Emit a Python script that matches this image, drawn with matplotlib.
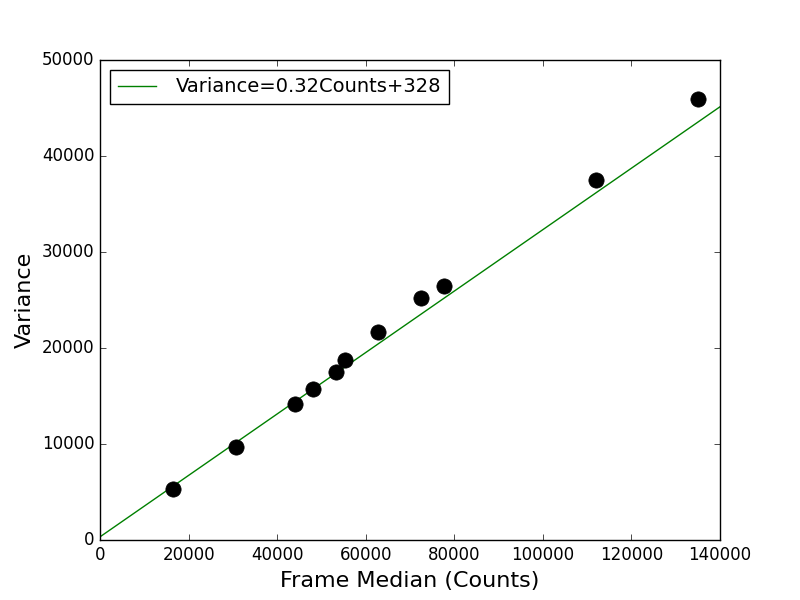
import numpy as np
import matplotlib
matplotlib.use('Agg')
import matplotlib.pyplot as plt

plt.style.use('classic')

# data
median_counts = [16500, 30700, 44000, 48100, 53300, 55300, 62800, 72500, 77700, 112000, 135000]
variance = [5300, 9700, 14200, 15700, 17500, 18800, 21700, 25200, 26500, 37500, 45900]
slope, intercept = 0.32, 328
fit_range = [0, 140000]

fig = plt.figure(figsize=(8, 6), dpi=100)
ax = fig.add_subplot(1, 1, 1)

xs = np.array(fit_range)
ax.plot(xs, slope * xs + intercept, color='green',
        label='Variance=%.2fCounts+%d' % (slope, intercept))
ax.plot(median_counts, variance, 'o', color='black', markersize=11)

ax.set_xlim(0, 140000)
ax.set_ylim(0, 50000)
ax.set_xlabel('Frame Median (Counts)', fontsize=16)
ax.set_ylabel('Variance', fontsize=16)
ax.legend(loc='upper left', fontsize=14, numpoints=1, handletextpad=1.0)

fig.savefig('out.png', dpi=100)
